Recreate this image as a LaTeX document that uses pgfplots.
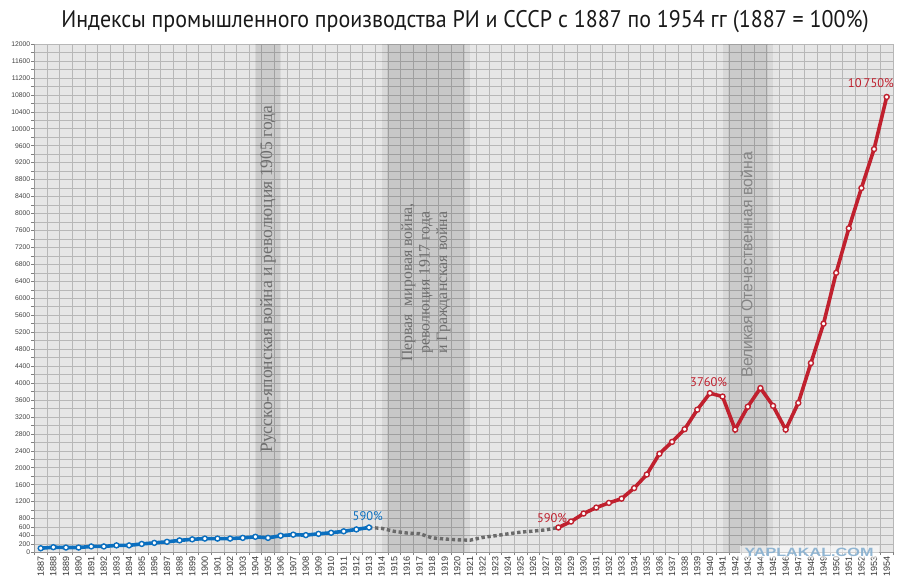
\documentclass[border=0pt]{standalone}
\usepackage{pgfplots}
\pgfplotsset{compat=1.18}
\usepackage{fontspec}
\setmainfont{Liberation Serif}
\newfontfamily\titlef{PT Sans}
\newfontfamily\tickf{Liberation Sans}
\newfontfamily\labf{PT Sans}
\newfontfamily\bandsans{Liberation Sans}
\definecolor{bg}{HTML}{E6E6E6}
\definecolor{gridc}{HTML}{B7B7B7}
\definecolor{blueL}{HTML}{0B6FBF}
\definecolor{redL}{HTML}{C0202E}
\definecolor{greyL}{HTML}{6A6A6A}
\definecolor{bandtxt}{HTML}{6E6E6E}
\definecolor{wm}{HTML}{86AFCF}
\begin{document}
\begin{tikzpicture}[x=1pt,y=1pt]
\begin{axis}[
  at={(34.4pt,32.5pt)}, anchor=south west,
  scale only axis, width=858.6pt, height=508.5pt,
  xmin=1886.5, xmax=1954.5, ymin=0, ymax=12000,
  scaled ticks=false,
  axis background/.style={fill=bg},
  axis x line*=bottom, axis y line*=left,
  axis line style={draw=gray!80, line width=0.8pt},
  xtick={1887,1888,...,1954},
  minor xtick={1886.5,1887.5,...,1954.5},
  ytick={0,200,400,600,800,1200,1600,2000,2400,2800,3200,3600,4000,4400,4800,5200,5600,6000,6400,6800,7200,7600,8000,8400,8800,9200,9600,10000,10400,10800,11200,11600,12000},
  minor ytick={0,200,...,12000},
  xmajorgrids=false, xminorgrids=true,
  ymajorgrids=true, yminorgrids=true,
  grid style={draw=gridc, line width=0.5pt},
  minor grid style={draw=gridc, line width=0.5pt},
  major grid style={draw=gridc, line width=0.5pt},
  tick align=outside,
  major x tick style={draw=none},
  minor x tick style={draw=gray, line width=0.5pt},
  minor tick length=3pt, major tick length=3pt,
  y tick style={draw=gray, line width=0.5pt},
  /pgf/number format/assume math mode=true,
  /pgf/number format/1000 sep={},
  x tick label style={font=\tickf\fontsize{9}{9}\selectfont, rotate=90, anchor=east, text=black!80, inner sep=1pt},
  y tick label style={font=\tickf\fontsize{6.8}{7}\selectfont, text=black!75, inner sep=1pt},
  clip=false,
]
% shaded periods
\fill[black, opacity=0.06] (axis cs:1904,0) rectangle (axis cs:1906,12000);
\fill[black, opacity=0.06] (axis cs:1904.08,0) rectangle (axis cs:1905.92,12000);
\fill[black, opacity=0.06] (axis cs:1914,0) rectangle (axis cs:1921,12000);
\fill[black, opacity=0.07] (axis cs:1914.4,0) rectangle (axis cs:1920.6,12000);
\fill[black, opacity=0.06] (axis cs:1941,0) rectangle (axis cs:1945,12000);
\fill[black, opacity=0.06] (axis cs:1941.4,0) rectangle (axis cs:1944.6,12000);

% dotted connection
\addplot[greyL, line width=3.4pt, dash pattern=on 3.4pt off 2.6pt] coordinates {
(1913,590) (1914,570) (1915,500) (1916,460) (1917,445) (1918,345) (1919,318) (1920,300)
(1921,290) (1922,355) (1923,395) (1924,440) (1925,480) (1926,505) (1927,535) (1928,590)};

% Russian Empire
\addplot[blueL, line width=3.6pt, mark=*, mark size=2.5pt,
  mark options={fill=white, draw=blueL, line width=1.4pt}] coordinates {
(1887,100) (1888,125) (1889,117) (1890,117) (1891,143) (1892,143) (1893,168) (1894,168)
(1895,202) (1896,227) (1897,252) (1898,286) (1899,311) (1900,328) (1901,328) (1902,328)
(1903,345) (1904,370) (1905,345) (1906,396) (1907,421) (1908,410) (1909,440) (1910,465)
(1911,500) (1912,545) (1913,590)};

% USSR
\addplot[redL, line width=3.6pt, mark=*, mark size=2.5pt,
  mark options={fill=white, draw=redL, line width=1.4pt}] coordinates {
(1928,590) (1929,730) (1930,920) (1931,1060) (1932,1170) (1933,1270) (1934,1520)
(1935,1840) (1936,2330) (1937,2610) (1938,2910) (1939,3370) (1940,3760) (1941,3680)
(1942,2900) (1943,3440) (1944,3880) (1945,3460) (1946,2900) (1947,3530) (1948,4470)
(1949,5400) (1950,6600) (1951,7650) (1952,8600) (1953,9520) (1954,10750)};

% band texts
\node[rotate=90, text=bandtxt, font=\fontsize{17.5}{18}\selectfont] at (axis cs:1905,6450) {Русско-японская война и революция 1905 года};
\node[rotate=90, text=bandtxt, align=center, font=\fontsize{15.8}{17.5}\selectfont] at (axis cs:1917.5,6370) {Первая\ \ мировая война,\\революция 1917 года\\и Гражданская война};
\node[rotate=90, text=bandtxt!85, font=\bandsans\fontsize{15.8}{16}\selectfont] at (axis cs:1942.9,6790) {Великая Отечественная война};

% value labels
\node[text=blueL, font=\labf\fontsize{12.5}{13}\selectfont] at (axis cs:1912.9,862) {590\%};
\node[text=redL, font=\labf\fontsize{12.5}{13}\selectfont] at (axis cs:1927.5,815) {590\%};
\node[text=redL, font=\labf\fontsize{12.5}{13}\selectfont] at (axis cs:1939.9,4015) {3760\%};
\node[text=redL, font=\labf\fontsize{12.5}{13}\selectfont] at (axis cs:1952.75,11070) {10\,750\%};
\end{axis}
% watermark
\node[fill=white, fill opacity=0.55, text opacity=0.9, text=wm, inner xsep=5pt, inner ysep=1.5pt,
  font=\tickf\bfseries\fontsize{12}{12}\selectfont] at (809pt,33pt) {\scalebox{1.35}[1]{YAPLAKAL.COM}};
% title
\node[font=\titlef\fontsize{24}{26}\selectfont, text=black!90] at (465pt,563pt)
  {\scalebox{0.915}[1]{Индексы промышленного производства РИ и СССР с 1887 по 1954 гг (1887 = 100\%)}};
\pgfresetboundingbox
\useasboundingbox (0,0) rectangle (905pt,585pt);
\end{tikzpicture}
\end{document}
